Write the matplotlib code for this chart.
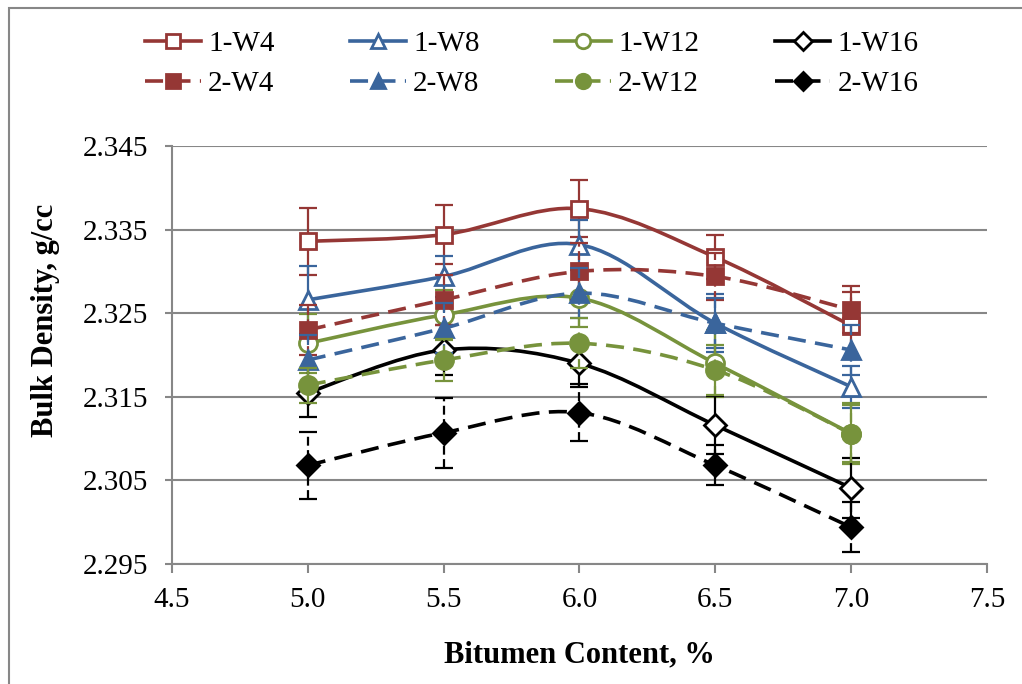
import matplotlib
matplotlib.use("Agg")
from matplotlib import pyplot as plt
from matplotlib.path import Path
from matplotlib.patches import PathPatch
from matplotlib.lines import Line2D
import numpy as np

plt.rcParams['font.family'] = ['Liberation Serif', 'DejaVu Serif']

bitumen = [5.0, 5.5, 6.0, 6.5, 7.0]

w4_1 = [2.3336, 2.3344, 2.3375, 2.3317, 2.3235]
w8_1 = [2.3266, 2.3294, 2.3332, 2.3238, 2.3162]
w12_1 = [2.3214, 2.3248, 2.3268, 2.3190, 2.3106]
w16_1 = [2.3155, 2.3206, 2.3190, 2.3116, 2.3041]
w4_2 = [2.3230, 2.3266, 2.3300, 2.3294, 2.3254]
w8_2 = [2.3194, 2.3232, 2.3274, 2.3238, 2.3206]
w12_2 = [2.3164, 2.3194, 2.3214, 2.3182, 2.3106]
w16_2 = [2.3068, 2.3107, 2.3131, 2.3068, 2.2994]

err_w4_1 = [0.0040, 0.0035, 0.0034, 0.0026, 0.0040]
err_w8_1 = [0.0041, 0.0025, 0.0030, 0.0035, 0.0025]
err_w12_1 = [0.0035, 0.0030, 0.0035, 0.0040, 0.0036]
err_w16_1 = [0.0029, 0.0030, 0.0028, 0.0035, 0.0036]
err_w4_2 = [0.0030, 0.0030, 0.0034, 0.0028, 0.0028]
err_w8_2 = [0.0030, 0.0030, 0.0030, 0.0030, 0.0030]
err_w12_2 = [0.0021, 0.0025, 0.0030, 0.0030, 0.0034]
err_w16_2 = [0.0040, 0.0042, 0.0034, 0.0024, 0.0030]

red = '#953735'
blue = '#3A659C'
green = '#77933C'
black = '#000000'

# label, values, errors, color, marker, filled, dashed
series = [
    ('1-W4', w4_1, err_w4_1, red, 's', False, False),
    ('1-W8', w8_1, err_w8_1, blue, '^', False, False),
    ('1-W12', w12_1, err_w12_1, green, 'o', False, False),
    ('1-W16', w16_1, err_w16_1, black, 'D', False, False),
    ('2-W4', w4_2, err_w4_2, red, 's', True, True),
    ('2-W8', w8_2, err_w8_2, blue, '^', True, True),
    ('2-W12', w12_2, err_w12_2, green, 'o', True, True),
    ('2-W16', w16_2, err_w16_2, black, 'D', True, True),
]
msize = {'s': 12, '^': 13, 'o': 13, 'D': 11}


def smooth_path(x, y):
    # bezier segments like the spreadsheet "smoothed line"
    n = len(x)
    verts = [(x[0], y[0])]
    codes = [Path.MOVETO]
    for i in range(n - 1):
        a = i - 1 if i > 0 else i
        b = i + 2 if i + 2 < n else i + 1
        c1 = (x[i] + (x[i + 1] - x[a]) / 6, y[i] + (y[i + 1] - y[a]) / 6)
        c2 = (x[i + 1] - (x[b] - x[i]) / 6, y[i + 1] - (y[b] - y[i]) / 6)
        verts += [c1, c2, (x[i + 1], y[i + 1])]
        codes += [Path.CURVE4] * 3
    return Path(verts, codes)


fig = plt.figure(figsize=(10.22, 6.84), dpi=100)
ax = fig.add_axes([172 / 1022, 1 - 564 / 684, 815 / 1022, 418 / 684])

dash = (0, (5, 2.6))
handles = {}
for z, (label, vals, errs, col, mk, filled, dashed) in enumerate(series):
    eb = ax.errorbar(bitumen, vals, yerr=errs, fmt='none', ecolor=col,
                     elinewidth=1.6, capsize=6.5, capthick=1.6, zorder=3 + z)
    if dashed:
        eb[2][0].set_linestyle((0, (4, 2)))
    ls = dash if dashed else '-'
    ax.add_patch(PathPatch(smooth_path(bitumen, vals), fill=False, edgecolor=col,
                           lw=2.6, linestyle=ls, zorder=3 + z))
    mfc = col if filled else 'white'
    ax.plot(bitumen, vals, linestyle='none', marker=mk, ms=msize[mk], mfc=mfc,
            mec=col, mew=2, zorder=3.5 + z)
    handles[label] = Line2D([], [], color=col, lw=2.6, linestyle=ls, marker=mk,
                            ms=msize[mk] * 0.8, mfc=mfc, mec=col, mew=2)

ax.set_xlim(4.5, 7.5)
ax.set_ylim(2.295, 2.345)
ax.set_xticks(np.arange(4.5, 7.51, 0.5))
ax.set_yticks(np.arange(2.295, 2.3451, 0.01))
ax.xaxis.set_major_formatter(matplotlib.ticker.FormatStrFormatter('%.1f'))
ax.yaxis.set_major_formatter(matplotlib.ticker.FormatStrFormatter('%.3f'))
ax.grid(axis='y', color='#878787', lw=1.5)
ax.set_axisbelow(True)
for s in ['top', 'right']:
    ax.spines[s].set_visible(False)
for s in ['left', 'bottom']:
    ax.spines[s].set_color('#878787')
    ax.spines[s].set_linewidth(1.5)
ax.tick_params(axis='both', colors='#878787', width=1.5, labelsize=21,
               labelcolor='black', direction='out')
ax.tick_params(axis='y', length=5, pad=12)
ax.tick_params(axis='x', length=6.5, pad=10)

ax.set_xlabel('Bitumen Content, %', fontsize=22, fontweight='bold', labelpad=20)
ax.set_ylabel('Bulk Density, g/cc', fontsize=22, fontweight='bold')
ax.yaxis.set_label_coords(-0.138, 0.584)

order = ['1-W4', '2-W4', '1-W8', '2-W8', '1-W12', '2-W12', '1-W16', '2-W16']
fig.legend([handles[k] for k in order], order, loc='center',
           bbox_to_anchor=(532 / 1022, 1 - 64 / 684), ncol=4, frameon=False,
           fontsize=21, handlelength=1.9, handletextpad=0.25,
           columnspacing=2.6, labelspacing=0.47)

fig.add_artist(plt.Rectangle((9 / 1022, -0.5), 2, 0.5 + (1 - 8 / 684),
                             transform=fig.transFigure, fill=False,
                             edgecolor='#878787', lw=1.5))

fig.savefig('out.png', dpi=100)
